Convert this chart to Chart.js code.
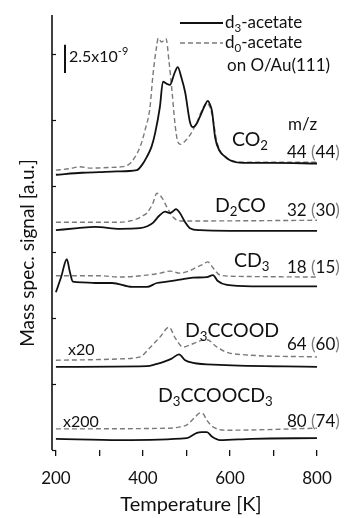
<!DOCTYPE html>
<html>
<head>
<meta charset="utf-8">
<script src="https://cdn.jsdelivr.net/npm/chart.js@4.4.0/dist/chart.umd.min.js"></script>
<style>
  html, body { margin: 0; padding: 0; background: #fff; }
  #chart { display: block; }
</style>
</head>
<body>
<canvas id="chart" width="344" height="518"></canvas>
<script>
// temperature [K], signal [a.u., traces stacked with offsets]
const co2D3 = [[200,4.17],[260,4.20],[300,4.21],[340,4.22],[386,4.24],[398,4.32],[409,4.44],[420,4.60],[428,4.80],[439,5.20],[446,5.58],[454,5.55],[462,5.53],[472,5.70],[480,5.80],[488,5.65],[497,5.42],[508,4.97],[515,4.89],[524,4.95],[531,5.05],[543,5.23],[549,5.29],[555,5.22],[559,5.12],[566,4.73],[577,4.52],[590,4.44],[600,4.39],[630,4.35],[700,4.35],[800,4.34]];
const co2D0 = [[200,4.24],[230,4.26],[255,4.29],[280,4.27],[320,4.28],[350,4.29],[366,4.32],[380,4.42],[395,4.62],[405,4.85],[416,5.18],[423,5.68],[432,6.14],[435,6.24],[443,6.18],[453,6.23],[460,5.88],[467,5.42],[474,4.92],[480,4.67],[486,4.63],[492,4.65],[508,4.77],[524,4.97],[538,5.18],[547,5.26],[559,5.08],[570,4.67],[584,4.47],[607,4.38],[640,4.36],[700,4.36],[800,4.36]];
const d2coD3 = [[200,3.33],[250,3.36],[290,3.38],[347,3.35],[393,3.36],[410,3.39],[423,3.44],[432,3.51],[439,3.56],[451,3.61],[462,3.59],[470,3.62],[476,3.65],[485,3.59],[497,3.45],[508,3.36],[531,3.33],[600,3.32],[800,3.32]];
const d2coD0 = [[200,3.45],[300,3.45],[347,3.45],[370,3.47],[386,3.50],[400,3.55],[409,3.59],[423,3.74],[432,3.89],[444,3.82],[455,3.68],[469,3.53],[485,3.47],[520,3.47],[800,3.48]];
const cd3D3 = [[200,2.39],[212,2.62],[225,2.89],[232,2.70],[239,2.55],[260,2.54],[290,2.53],[329,2.53],[375,2.47],[409,2.47],[432,2.53],[455,2.55],[485,2.58],[515,2.61],[547,2.62],[561,2.65],[572,2.56],[593,2.50],[650,2.48],[800,2.48]];
const cd3D0 = [[200,2.64],[300,2.64],[347,2.62],[409,2.65],[440,2.68],[462,2.71],[485,2.68],[505,2.71],[524,2.77],[540,2.82],[549,2.85],[561,2.76],[577,2.65],[620,2.63],[800,2.62]];
const acidD3 = [[200,1.26],[409,1.27],[430,1.30],[446,1.33],[465,1.38],[483,1.45],[497,1.36],[515,1.32],[577,1.29],[800,1.26]];
const acidD0 = [[200,1.36],[300,1.37],[347,1.38],[393,1.41],[416,1.55],[439,1.71],[460,1.86],[474,1.70],[492,1.56],[515,1.61],[535,1.66],[547,1.67],[570,1.56],[593,1.48],[639,1.44],[800,1.41]];
const esterD3 = [[200,0.17],[347,0.15],[501,0.18],[524,0.26],[535,0.27],[547,0.27],[559,0.20],[577,0.15],[650,0.17],[800,0.18]];
const esterD0 = [[200,0.32],[462,0.33],[485,0.35],[501,0.38],[520,0.50],[531,0.56],[538,0.55],[547,0.45],[561,0.35],[593,0.30],[800,0.33]];

const species = ["CO_{2}", "D_{2}CO", "CD_{3}", "D_{3}CCOOD", "D_{3}CCOOCD_{3}"];
const massD3 = ["44", "32", "18", "64", "80"];
const massD0 = ["44", "30", "15", "60", "74"];
const factors = ["x20", "x200"];
const xTicks = [200, 300, 400, 500, 600, 700, 800];
const xLabels = [200, 400, 600, 800];

const FONT = "Lato, 'DejaVu Sans', sans-serif";
const INK = "#111";
const GREY = "#7a7a7a";

function toPoints(arr) {
  return arr.map(p => ({ x: p[0], y: p[1] }));
}

function solid(arr) {
  return { data: toPoints(arr), borderColor: INK, borderWidth: 1.8, pointRadius: 0, cubicInterpolationMode: "monotone" };
}

function dashed(arr) {
  return { data: toPoints(arr), borderColor: GREY, borderWidth: 1.4, borderDash: [5, 3], pointRadius: 0, cubicInterpolationMode: "monotone" };
}

// "D_{3}CCOOD" -> pieces with sub/superscripts
function parse(str) {
  const out = [];
  const re = /_\{([^}]*)\}|\^\{([^}]*)\}|[^_^]+/g;
  let m;
  while ((m = re.exec(str))) {
    if (m[1] !== undefined) out.push({ t: m[1], sub: true });
    else if (m[2] !== undefined) out.push({ t: m[2], sup: true });
    else out.push({ t: m[0] });
  }
  return out;
}

function rich(ctx, x, y, parts, size, align) {
  const widthOf = p => {
    ctx.font = ((p.sub || p.sup) ? size * 0.68 : size) + "px " + FONT;
    return ctx.measureText(p.t).width;
  };
  let cx = x;
  if (align === "center") cx = x - parts.reduce((s, p) => s + widthOf(p), 0) / 2;
  ctx.textAlign = "left";
  ctx.textBaseline = "alphabetic";
  parts.forEach(p => {
    const w = widthOf(p);
    const dy = p.sub ? size * 0.22 : p.sup ? -size * 0.42 : 0;
    ctx.fillStyle = p.color || INK;
    ctx.fillText(p.t, cx, y + dy);
    cx += w;
  });
}

/* ================= ANNOTATIONS ================= */
const annotations = {
  id: "annotations",
  afterDraw(chart) {
    const ctx = chart.ctx;
    const y = chart.scales.y;
    const { left, top, bottom } = chart.chartArea;
    ctx.save();

    // signal axis line + inner ticks
    ctx.strokeStyle = INK;
    ctx.lineWidth = 1.6;
    ctx.beginPath();
    ctx.moveTo(left, top);
    ctx.lineTo(left, bottom);
    ctx.stroke();
    ctx.lineWidth = 1.2;
    for (let v = 0; v <= 6; v++) {
      const py = Math.round(y.getPixelForValue(v)) + 0.5;
      ctx.beginPath();
      ctx.moveTo(left, py);
      ctx.lineTo(left + 4, py);
      ctx.stroke();
    }

    // scale bar 2.5x10^-9
    ctx.lineWidth = 2;
    ctx.beginPath();
    ctx.moveTo(65, y.getPixelForValue(5.71));
    ctx.lineTo(65, y.getPixelForValue(5.71 + 0.43));
    ctx.stroke();
    rich(ctx, 69, 62, parse("2.5x10^{-9}"), 16);

    // legend
    ctx.lineWidth = 1.8;
    ctx.beginPath();
    ctx.moveTo(180, 23);
    ctx.lineTo(223, 23);
    ctx.stroke();
    ctx.strokeStyle = GREY;
    ctx.lineWidth = 1.4;
    ctx.setLineDash([5, 3]);
    ctx.beginPath();
    ctx.moveTo(180, 43);
    ctx.lineTo(223, 43);
    ctx.stroke();
    ctx.setLineDash([]);
    rich(ctx, 225, 28, parse("d_{3}-acetate"), 17);
    rich(ctx, 225, 48, parse("d_{0}-acetate"), 17);
    rich(ctx, 227, 71, parse("on O/Au(111)"), 17);

    // species names
    const nameX = [232, 215, 234, 185, 158];
    const nameY = [146, 212, 267, 337, 402];
    species.forEach((s, i) => rich(ctx, nameX[i], nameY[i], parse(s), 19.5));

    // m/z column
    rich(ctx, 288, 130, [{ t: "m/z" }], 17);
    const mzY = [158, 216, 273, 350, 427];
    massD3.forEach((m, i) => {
      rich(ctx, 287, mzY[i], [
        { t: m + " " },
        { t: "(", color: GREY },
        { t: massD0[i] },
        { t: ")", color: GREY }
      ], 17);
    });

    // multiplication factors
    rich(ctx, 68, 355, [{ t: factors[0] }], 16);
    rich(ctx, 63, 427, [{ t: factors[1] }], 16);

    // axis titles
    rich(ctx, 191, 511, [{ t: "Temperature [K]" }], 20, "center");
    ctx.translate(34, 253);
    ctx.rotate(-Math.PI / 2);
    rich(ctx, 0, 0, [{ t: "Mass spec. signal [a.u.]" }], 19, "center");

    ctx.restore();
  }
};

new Chart(document.getElementById("chart"), {
  type: "line",
  data: {
    datasets: [
      solid(co2D3), dashed(co2D0),
      solid(d2coD3), dashed(d2coD0),
      solid(cd3D3), dashed(cd3D0),
      solid(acidD3), dashed(acidD0),
      solid(esterD3), dashed(esterD0)
    ]
  },
  options: {
    responsive: false,
    animation: false,
    devicePixelRatio: 1,
    layout: { padding: { left: 52, right: 27, top: 15, bottom: 0 } },
    plugins: { legend: { display: false }, tooltip: { enabled: false } },
    scales: {
      x: {
        type: "linear",
        min: 191,
        max: 800,
        afterBuildTicks: s => { s.ticks = xTicks.map(v => ({ value: v })); },
        afterFit: s => { s.height = 68; },
        border: { display: false },
        grid: { drawOnChartArea: false, tickLength: 6, color: INK, lineWidth: 1.3 },
        ticks: {
          padding: 12,
          maxRotation: 0,
          autoSkip: false,
          color: INK,
          font: { family: FONT, size: 17 },
          callback: v => (xLabels.includes(v) ? String(v) : "")
        }
      },
      y: {
        min: 0,
        max: 6.59,
        afterFit: s => { s.width = 0; },
        border: { display: false },
        grid: { display: false },
        ticks: { display: false }
      }
    }
  },
  plugins: [annotations]
});
</script>
</body>
</html>
